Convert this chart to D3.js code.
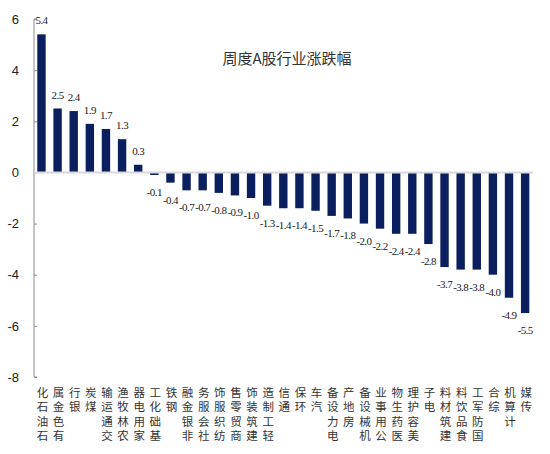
<!DOCTYPE html>
<html>
<head>
<meta charset="utf-8">
<script src="https://cdn.jsdelivr.net/npm/d3@7"></script>
<style>
  body { margin: 0; background: #fff; }
  svg { display: block; }
  .cat { writing-mode: vertical-rl; text-orientation: upright; }
</style>
</head>
<body>
<figure style="margin:0"></figure>
<script>
// weekly industry returns, %, Shenwan level-1
const industries = ['石油石化', '有色金属', '银行', '煤炭', '交通运输', '农林牧渔', '家用电器', '基础化工',
  '钢铁', '非银金融', '社会服务', '纺织服饰', '商贸零售', '建筑装饰', '轻工制造', '通信', '环保', '汽车',
  '电力设备', '房地产', '机械设备', '公用事业', '医药生物', '美容护理', '电子', '建筑材料', '食品饮料',
  '国防军工', '综合', '计算机', '传媒']
const changes = [5.4, 2.5, 2.4, 1.9, 1.7, 1.3, 0.3, -0.1, -0.4, -0.7, -0.7, -0.8, -0.9, -1.0, -1.3,
  -1.4, -1.4, -1.5, -1.7, -1.8, -2.0, -2.2, -2.4, -2.4, -2.8, -3.7, -3.8, -3.8, -4.0, -4.9, -5.5]
const yTicks = [6, 4, 2, 0, -2, -4, -6, -8]
const title = '周度A股行业涨跌幅'

const WIDTH = 550
const HEIGHT = 454
const BAR_COLOR = '#0b1f5e'

const data = industries.map((name, i) => ({ name, value: changes[i] }))

const svg = d3.select('figure').append('svg')
  .attr('width', WIDTH)
  .attr('height', HEIGHT)

const x = d3.scaleBand()
  .domain(industries)
  .range([33.4, 533.2])
  .paddingInner(0.48)
  .paddingOuter(0.24)

const y = d3.scaleLinear()
  .domain([-8, 6])
  .range([377, 19])

// y axis
const yAxis = svg.append('g')
  .attr('transform', 'translate(34,0)')
  .call(d3.axisRight(y).tickValues(yTicks).tickSize(3).tickFormat(''))
yAxis.select('.domain').attr('stroke', '#8c8c8c').attr('d', `M3,${y(6)}H0V${y(-8)}H3`)
yAxis.selectAll('.tick line').attr('stroke', '#8c8c8c')

svg.append('g').selectAll('text')
  .data(yTicks)
  .enter().append('text')
  .attr('x', 19)
  .attr('y', d => y(d))
  .attr('dy', '0.36em')
  .attr('text-anchor', 'end')
  .attr('font-family', 'Liberation Sans, Arial, sans-serif')
  .attr('font-size', 13)
  .attr('fill', '#222')
  .text(d => d)

// bars
svg.append('g').selectAll('rect')
  .data(data)
  .enter().append('rect')
  .attr('x', d => x(d.name))
  .attr('width', x.bandwidth())
  .attr('y', d => y(Math.max(0, d.value)))
  .attr('height', d => Math.abs(y(d.value) - y(0)))
  .attr('fill', BAR_COLOR)

// zero line
svg.append('line')
  .attr('x1', 34)
  .attr('x2', 533)
  .attr('y1', y(0))
  .attr('y2', y(0))
  .attr('stroke', '#d9d9d9')
  .attr('stroke-width', 2)

// value labels
svg.append('g').selectAll('text')
  .data(data)
  .enter().append('text')
  .attr('x', d => x(d.name) + x.bandwidth() / 2)
  .attr('y', d => d.value >= 0 ? y(d.value) - 10 : y(d.value) + 21)
  .attr('text-anchor', 'middle')
  .attr('font-family', 'Liberation Serif, Times New Roman, serif')
  .attr('font-size', 11)
  .attr('letter-spacing', -0.6)
  .attr('fill', '#222')
  .text(d => d.value.toFixed(1))

// category labels: upright characters stacked, read bottom to top, top aligned
svg.append('g').selectAll('text')
  .data(industries)
  .enter().append('text')
  .attr('class', 'cat')
  .attr('x', d => x(d) + x.bandwidth() / 2 + 1)
  .attr('y', 387)
  .attr('font-family', 'Noto Sans CJK SC, sans-serif')
  .attr('font-size', 11.5)
  .attr('letter-spacing', 2.8)
  .attr('fill', '#333')
  .text(d => Array.from(d).reverse().join(''))

svg.append('text')
  .attr('x', 287)
  .attr('y', 64)
  .attr('text-anchor', 'middle')
  .attr('font-family', 'Noto Sans CJK SC, sans-serif')
  .attr('font-size', 15)
  .attr('fill', '#333')
  .text(title)
</script>
</body>
</html>
